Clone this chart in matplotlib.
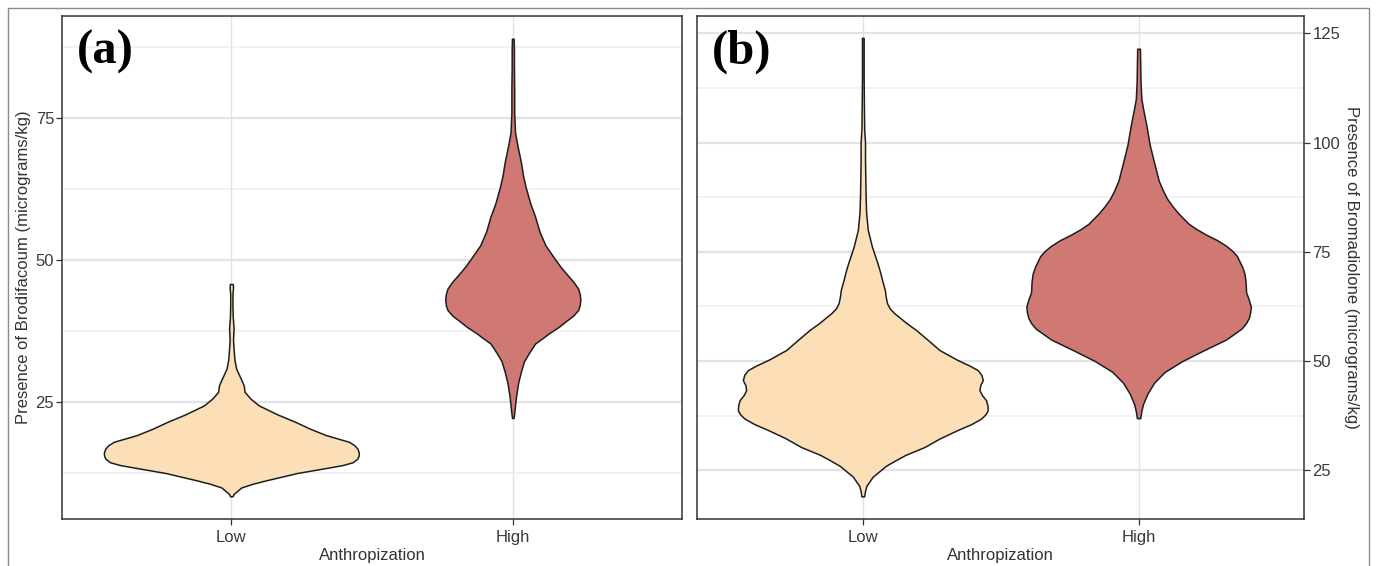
import numpy as np
import matplotlib
matplotlib.use('Agg')
import matplotlib.pyplot as plt
from matplotlib.patches import Rectangle

plt.rcParams['font.family'] = ['Liberation Sans', 'DejaVu Sans']

categories = ['Low', 'High']
xlabel = 'Anthropization'

# panel (a) brodifacoum: violin outline (value, half width)
brod_low_val = [8.4, 8.8, 9.95, 10.6, 11.2, 12.5, 13.45, 13.9, 14.4, 15.0, 15.5, 16.1, 16.8, 17.4,
                18.0, 19.2, 20.3, 21.5, 22.8, 24.4, 25.6, 26.8, 27.95, 29.5, 30.9, 32.5, 34.4,
                36.0, 38.0, 40.0, 42.0, 44.0, 45.2, 45.8]
brod_low_w = [0.004, 0.008, 0.035, 0.075, 0.122, 0.233, 0.344, 0.395, 0.431, 0.447, 0.452, 0.453, 0.448, 0.437,
              0.418, 0.335, 0.280, 0.228, 0.165, 0.098, 0.068, 0.047, 0.044, 0.030, 0.017, 0.011, 0.008,
              0.006, 0.008, 0.005, 0.004, 0.004, 0.006, 0.005]
brod_high_val = [22.2, 23.5, 25.8, 28.4, 30.2, 32.2, 33.7, 35.3, 36.2, 37.2, 38.2, 39.3, 40.2, 41.2,
                 42.1, 43.1, 44.0, 45.0, 46.2, 47.5, 48.8, 50.1, 52.6, 55.0, 57.7, 60.0, 62.8, 65.0,
                 67.2, 70.3, 72.5, 76.0, 80.0, 84.0, 87.0, 89.0]
brod_high_w = [0.003, 0.006, 0.011, 0.019, 0.028, 0.040, 0.058, 0.079, 0.104, 0.131, 0.162, 0.190, 0.214, 0.232,
               0.238, 0.240, 0.238, 0.232, 0.215, 0.192, 0.170, 0.151, 0.116, 0.095, 0.079, 0.062, 0.046, 0.036,
               0.029, 0.016, 0.008, 0.005, 0.005, 0.004, 0.004, 0.003]

# panel (b) bromadiolone
brom_low_val = [19.0, 20.2, 21.4, 23.5, 26.0, 27.3, 28.5, 30.3, 32.3, 34.2, 35.5, 36.8, 37.8, 38.7,
                39.8, 41.0, 42.2, 43.3, 44.5, 45.6, 46.8, 47.9, 49.0, 50.2, 52.5, 54.8, 57.1, 58.6,
                60.9, 62.0, 63.2, 64.7, 66.2, 68.5, 70.5, 72.4, 76.2, 80.0, 84.0, 88.0, 92.0, 96.0,
                100.0, 103.0, 108.0, 115.0, 120.0, 124.0]
brom_low_w = [0.005, 0.008, 0.013, 0.036, 0.084, 0.120, 0.155, 0.224, 0.280, 0.344, 0.392, 0.429, 0.445, 0.453,
              0.452, 0.447, 0.432, 0.423, 0.426, 0.435, 0.430, 0.417, 0.385, 0.344, 0.278, 0.236, 0.193, 0.160,
              0.115, 0.098, 0.088, 0.083, 0.080, 0.070, 0.062, 0.053, 0.033, 0.018, 0.012, 0.010, 0.009, 0.008,
              0.008, 0.005, 0.004, 0.003, 0.003, 0.003]
brom_high_val = [36.9, 38.5, 40.1, 42.5, 45.0, 47.5, 50.0, 52.5, 54.9, 57.4, 58.7, 59.9, 61.2, 62.4,
                 64.0, 65.7, 68.2, 70.0, 71.5, 74.0, 75.2, 76.4, 77.7, 78.9, 80.2, 81.4, 83.9, 85.5,
                 87.2, 89.2, 91.3, 95.5, 99.6, 103.7, 107.9, 110.0, 114.0, 118.0, 121.5]
brom_high_w = [0.006, 0.010, 0.016, 0.032, 0.056, 0.095, 0.159, 0.238, 0.317, 0.373, 0.390, 0.400, 0.405, 0.407,
               0.400, 0.390, 0.388, 0.384, 0.376, 0.357, 0.340, 0.317, 0.284, 0.246, 0.210, 0.182, 0.143, 0.122,
               0.103, 0.087, 0.073, 0.056, 0.040, 0.029, 0.016, 0.010, 0.007, 0.006, 0.005]

colors = ['#FDDFB7', '#D07874']
grid_major = '#E3E3E3'
grid_minor = '#F0F0F0'

fig = plt.figure(figsize=(13.76, 5.66), dpi=100)
ax1 = fig.add_axes([0.0454, 0.083, 0.450, 0.8887])
ax2 = fig.add_axes([0.5068, 0.083, 0.4409, 0.8887])

# outer frame
fig.patches.append(Rectangle((8/1376, -0.02), 1361/1376, 1.02 - 8/566, transform=fig.transFigure,
                             fill=False, edgecolor='#8C8C8C', lw=1.0, zorder=0))

panels = [
    (ax1, [(brod_low_val, brod_low_w), (brod_high_val, brod_high_w)], (4.4, 93.0),
     [25, 50, 75], [12.5, 37.5, 62.5, 87.5], 'Presence of Brodifacoum (micrograms/kg)', '(a)'),
    (ax2, [(brom_low_val, brom_low_w), (brom_high_val, brom_high_w)], (13.8, 129.0),
     [25, 50, 75, 100, 125], [37.5, 62.5, 87.5, 112.5], 'Presence of Bromadiolone (micrograms/kg)', '(b)'),
]

for ax, viol, ylim, maj, mnr, ylab, tag in panels:
    for i, (vals, ws) in enumerate(viol):
        pos = i + 1
        vals = np.array(vals)
        ws = np.array(ws)
        poly = ax.fill_betweenx(vals, pos - ws, pos + ws, facecolor=colors[i], edgecolor='#1E1E1E',
                                lw=1.1, zorder=3)
        poly.set_joinstyle('round')
    ax.set_xlim(0.4, 2.6)
    ax.set_ylim(*ylim)
    ax.set_xticks([1, 2])
    ax.set_xticklabels(categories)
    ax.set_yticks(maj)
    ax.set_yticks(mnr, minor=True)
    for m in maj:
        ax.axhline(m, color=grid_major, lw=1.6, zorder=1)
    for m in mnr:
        ax.axhline(m, color=grid_minor, lw=1.2, zorder=1)
    for p in [1, 2]:
        ax.axvline(p, color=grid_major, lw=1.0, zorder=1)
    ax.tick_params(axis='both', which='major', length=4, width=0.9, color='#333333',
                   labelcolor='#3A3A3A', labelsize=12, pad=2)
    ax.tick_params(axis='both', which='minor', length=0)
    ax.tick_params(axis='x', pad=4)
    for s in ax.spines.values():
        s.set_color('#333333')
        s.set_linewidth(1.1)
    ax.set_xlabel(xlabel, fontsize=12, color='#333333', labelpad=2)
    ax.text(0.024, 0.905, tag, transform=ax.transAxes, fontsize=35, fontweight='bold',
            family='Liberation Serif', va='baseline', ha='left', zorder=5)
    if ax is ax1:
        ax.set_ylabel(ylab, fontsize=12, color='#333333', labelpad=3)
    else:
        ax.yaxis.tick_right()
        ax.yaxis.set_label_position('right')
        ax.set_ylabel(ylab, fontsize=12, color='#333333', rotation=-90, va='bottom', labelpad=3)

fig.savefig('out.png', dpi=100)
